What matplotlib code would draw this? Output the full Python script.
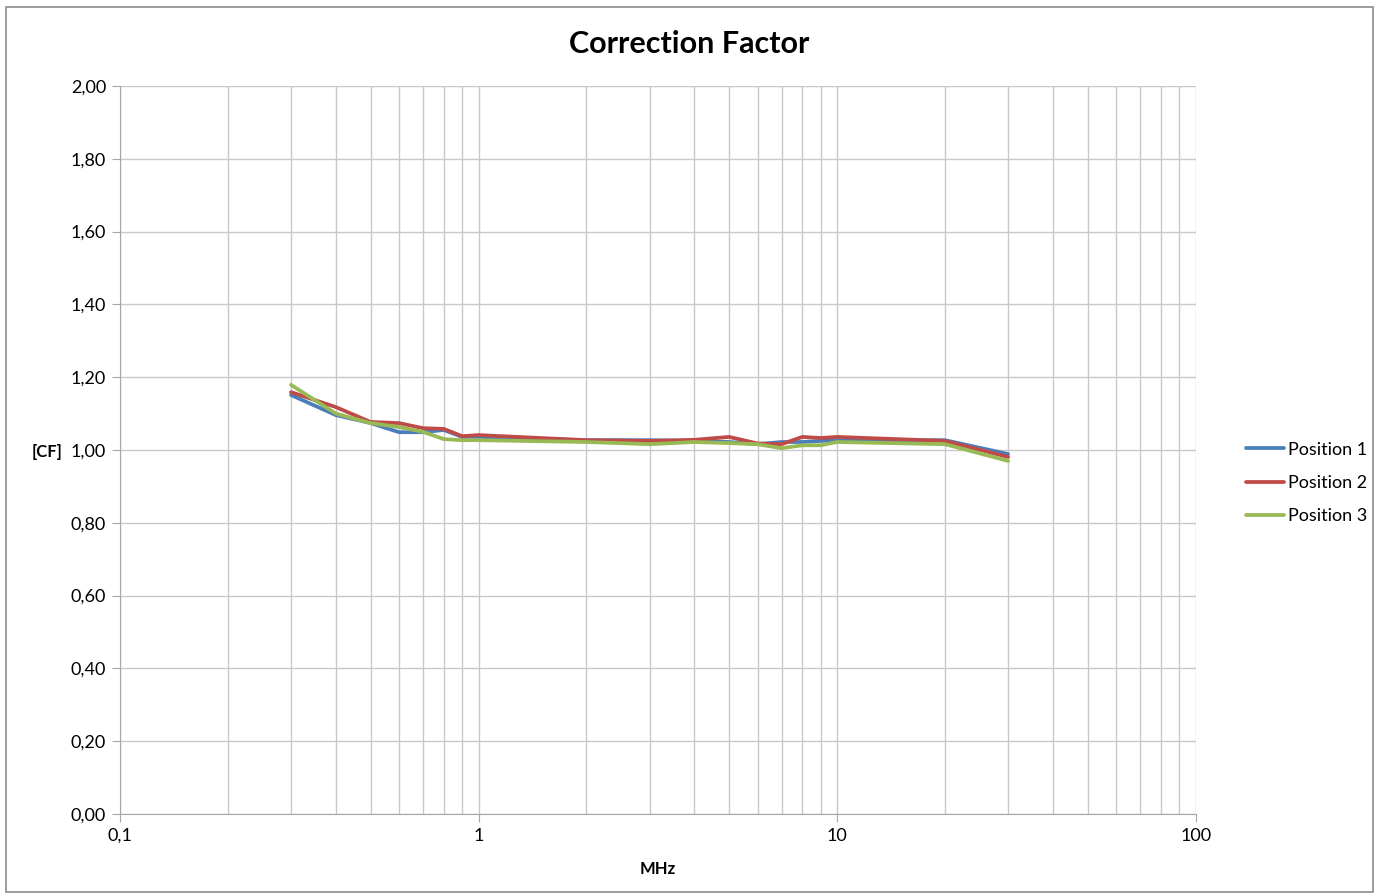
import matplotlib.pyplot as plt
import numpy as np
from matplotlib.ticker import FixedLocator, LogLocator, NullFormatter

plt.rcParams['font.family'] = ['Lato', 'DejaVu Sans']

# frequencies in MHz
freq = [0.3, 0.4, 0.5, 0.6, 0.7, 0.8, 0.9, 1, 2, 3, 4, 5, 6, 7, 8, 9, 10, 20, 30]

pos1 = [1.151, 1.096, 1.074, 1.049, 1.049, 1.055, 1.036, 1.036, 1.027, 1.027,
        1.025, 1.022, 1.016, 1.022, 1.022, 1.025, 1.027, 1.027, 0.989]
pos2 = [1.159, 1.118, 1.077, 1.074, 1.060, 1.058, 1.038, 1.041, 1.027, 1.025,
        1.028, 1.036, 1.018, 1.016, 1.036, 1.033, 1.036, 1.025, 0.981]
pos3 = [1.179, 1.100, 1.074, 1.063, 1.050, 1.030, 1.027, 1.027, 1.022, 1.016,
        1.022, 1.019, 1.016, 1.005, 1.013, 1.013, 1.022, 1.016, 0.970]

series = [('Position 1', pos1, '#4a7ebb'),
          ('Position 2', pos2, '#be4b48'),
          ('Position 3', pos3, '#98b954')]

fig = plt.figure(figsize=(13.79, 8.96), dpi=100)
ax = fig.add_axes([0.087, 0.0915, 0.78, 0.8125])

for name, vals, col in series:
    ax.plot(freq, vals, color=col, lw=2.7, label=name, solid_capstyle='round')

ax.set_xscale('log')
ax.set_xlim(0.1, 100)
ax.set_ylim(0, 2)

ax.xaxis.set_major_locator(FixedLocator([0.1, 1, 10, 100]))
ax.set_xticklabels(['0,1', '1', '10', '100'])
ax.xaxis.set_minor_locator(LogLocator(base=10, subs=np.arange(2, 10)))
ax.xaxis.set_minor_formatter(NullFormatter())

yt = np.arange(0, 2.01, 0.2)
ax.set_yticks(yt)
ax.set_yticklabels([f'{v:.2f}'.replace('.', ',') for v in yt])

ax.grid(True, which='both', axis='x', color='#c8c8c8', lw=1)
ax.grid(True, which='major', axis='y', color='#c8c8c8', lw=1)
ax.set_axisbelow(True)

for s in ['top', 'right']:
    ax.spines[s].set_visible(False)
for s in ['left', 'bottom']:
    ax.spines[s].set_color('#a6a6a6')

ax.tick_params(axis='both', which='major', length=6, color='#a6a6a6',
               labelsize=13, pad=4)
ax.tick_params(axis='x', which='minor', length=0)

fig.text(0.5, 0.951, 'Correction Factor', fontsize=22, fontweight='bold',
         ha='center', va='center')
ax.set_xlabel('MHz', fontsize=12, fontweight='bold', labelpad=12)
fig.text(0.034, 0.496, '[CF]', fontsize=12, fontweight='bold', ha='center', va='center')

fig.legend(loc='center left', bbox_to_anchor=(0.897, 0.461), frameon=False,
           fontsize=13, handlelength=2.1, handletextpad=0.2, labelspacing=0.95,
           borderpad=0)

# outer border
fig.patches.append(plt.Rectangle((0.004, 0.004), 0.992, 0.988, transform=fig.transFigure,
                                 fill=False, edgecolor='#8c8c8c', lw=1.2))

fig.savefig('out.png', dpi=100)
